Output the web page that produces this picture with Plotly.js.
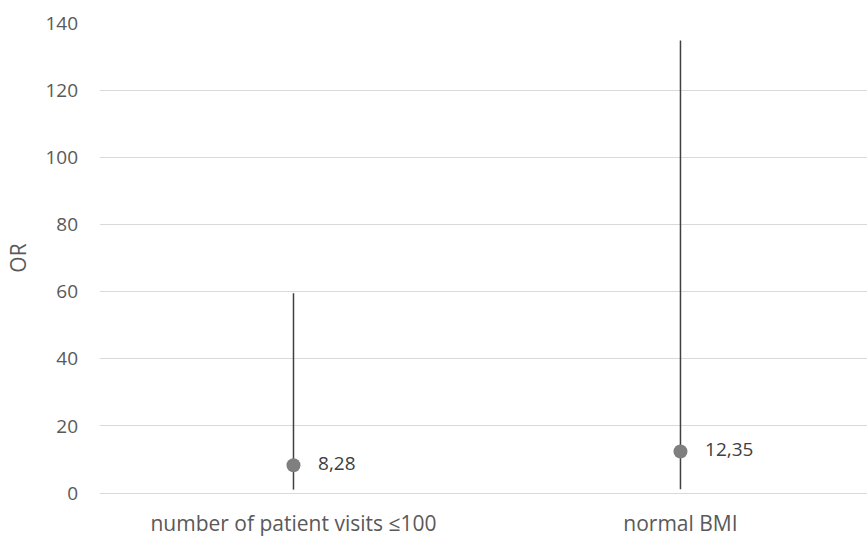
<!DOCTYPE html>
<html>
<head>
<meta charset="utf-8">
<script src="https://cdn.plot.ly/plotly-3.0.1.min.js"></script>
<style>html,body{margin:0;padding:0;background:#fff;}</style>
</head>
<body>
<div id="chart" style="width:867px;height:537px;"></div>
<script>
const categories = ["number of patient visits ≤100", "normal BMI"];
const oddsRatio = [8.28, 12.35];
const ciLower = [1.0, 1.1];
const ciUpper = [59.5, 134.8];

const FONT = "Open Sans, Liberation Sans, sans-serif";

const trace = {
  type: "scatter",
  mode: "markers+text",
  x: categories,
  y: oddsRatio,
  marker: {color: "#7f7f7f", size: 14},
  texttemplate: "   %{y:.2f}",
  textposition: "middle right",
  textfont: {family: FONT, size: 19, color: "#404040"},
  error_y: {
    type: "data",
    symmetric: false,
    array: oddsRatio.map((v, i) => ciUpper[i] - v),
    arrayminus: oddsRatio.map((v, i) => v - ciLower[i]),
    width: 0,
    thickness: 1.5,
    color: "#404040"
  },
  cliponaxis: false,
  hoverinfo: "skip"
};

const layout = {
  width: 867,
  height: 537,
  margin: {l: 100, r: 0, t: 23, b: 44},
  separators: ",.",
  paper_bgcolor: "#ffffff",
  plot_bgcolor: "#ffffff",
  showlegend: false,
  font: {family: FONT, size: 19, color: "#595959"},
  xaxis: {
    type: "category",
    range: [-0.5, 1.482],
    showgrid: false,
    zeroline: false,
    showline: false,
    ticks: "",
    ticklabelstandoff: 16,
    tickfont: {size: 21, color: "#595959"}
  },
  yaxis: {
    range: [0, 140],
    dtick: 20,
    showgrid: true,
    gridcolor: "#d9d9d9",
    gridwidth: 1,
    zeroline: true,
    zerolinecolor: "#d9d9d9",
    zerolinewidth: 1,
    showline: false,
    ticks: "",
    ticklabelstandoff: 21,
    tickfont: {size: 19, color: "#595959"},
    title: {text: "OR", font: {size: 21, color: "#595959"}, standoff: 13}
  }
};

Plotly.newPlot("chart", [trace], layout, {displayModeBar: false, staticPlot: true});
</script>
</body>
</html>
